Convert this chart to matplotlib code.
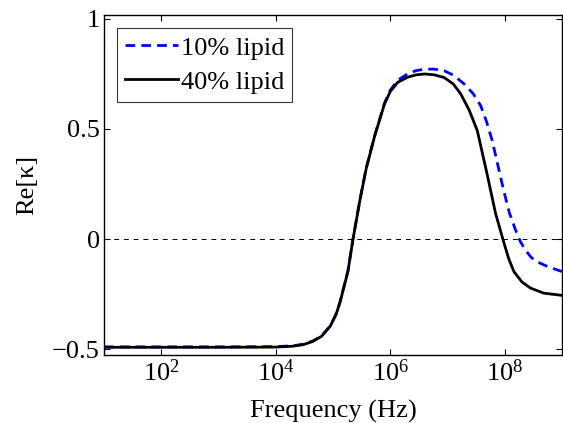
import numpy as np
import matplotlib.pyplot as plt
from matplotlib.ticker import FixedLocator, NullLocator

# ── DATA ────────────────────────────────────────────────────────────────────
# log10 of frequency (Hz) and Re[kappa]
LOGF_40 = [1.0, 2.0, 3.0, 4.0, 4.3, 4.48, 4.65, 4.80, 4.95, 5.05, 5.12, 5.26,
           5.35, 5.47, 5.58, 5.73, 5.90, 6.0, 6.13, 6.3, 6.45, 6.6, 6.77, 6.94,
           7.1, 7.23, 7.38, 7.52, 7.69, 7.84, 7.98, 8.07, 8.16, 8.3, 8.45,
           8.68, 9.0]
RE_40 = [-0.492, -0.492, -0.492, -0.491, -0.487, -0.48, -0.465, -0.442, -0.397,
         -0.345, -0.29, -0.148, 0.0, 0.176, 0.32, 0.47, 0.614, 0.67, 0.712,
         0.735, 0.746, 0.75, 0.746, 0.734, 0.705, 0.66, 0.585, 0.493, 0.297,
         0.116, -0.012, -0.09, -0.148, -0.195, -0.223, -0.246, -0.256]

LOGF_10 = [1.0, 2.0, 3.0, 4.0, 4.3, 4.48, 4.65, 4.80, 4.95, 5.05, 5.12, 5.26,
           5.35, 5.47, 5.58, 5.73, 5.90, 6.0, 6.13, 6.3, 6.45, 6.6, 6.77, 6.94,
           7.1, 7.29, 7.45, 7.58, 7.68, 7.78, 7.88, 7.98, 8.08, 8.19, 8.27,
           8.36, 8.46, 8.56, 8.75, 9.0]
RE_10 = [-0.49, -0.49, -0.49, -0.489, -0.485, -0.478, -0.463, -0.44, -0.395,
         -0.343, -0.288, -0.146, 0.002, 0.178, 0.322, 0.472, 0.618, 0.676,
         0.722, 0.75, 0.765, 0.772, 0.772, 0.765, 0.745, 0.705, 0.66, 0.606,
         0.535, 0.448, 0.335, 0.222, 0.12, 0.04, -0.01, -0.05, -0.083, -0.103,
         -0.125, -0.148]

X_TICKS = [1e2, 1e4, 1e6, 1e8]
X_TICKLABELS = ['$10^2$', '$10^4$', '$10^6$', '$10^8$']
Y_TICKS = [-0.5, 0, 0.5, 1]
Y_TICKLABELS = ['\u22120.5', '0', '0.5', '1']

# ── PLOT ────────────────────────────────────────────────────────────────────
plt.rcParams['font.family'] = ['Liberation Serif', 'DejaVu Serif']
plt.rcParams['mathtext.fontset'] = 'custom'
plt.rcParams['mathtext.rm'] = 'Liberation Serif'
plt.rcParams['mathtext.it'] = 'Liberation Serif:italic'

FS = 19

fig = plt.figure(figsize=(5.63, 4.23), dpi=100)
ax = fig.add_axes([104 / 563, 68 / 423, 458 / 563, 340 / 423])

ax.axhline(0, color='black', linestyle=(0, (5, 5)), linewidth=0.7)

f10 = 10 ** np.array(LOGF_10)
f40 = 10 ** np.array(LOGF_40)
ax.plot(f10, RE_10, color='blue', linewidth=2.0, dashes=(3.5, 2.2),
        label='10% lipid')
ax.plot(f40, RE_40, color='black', linewidth=2.0, label='40% lipid')

ax.set_xscale('log')
ax.set_xlim(10, 1e9)
ax.set_ylim(-0.527, 1.018)
ax.xaxis.set_major_locator(FixedLocator(X_TICKS))
ax.xaxis.set_minor_locator(NullLocator())
ax.set_xticks(X_TICKS, X_TICKLABELS)
ax.set_yticks(Y_TICKS, Y_TICKLABELS)
ax.tick_params(direction='in', top=True, right=True, labelsize=FS,
               length=4, width=0.8, pad=3)
for s in ax.spines.values():
    s.set_linewidth(1.0)

ax.set_xlabel('Frequency (Hz)', fontsize=FS, labelpad=10)
ax.set_ylabel('Re[\u03ba]', fontsize=FS, labelpad=10)

leg = ax.legend(loc='upper left', fontsize=FS, frameon=True, fancybox=False,
                edgecolor='black', handlelength=2.0, handletextpad=0.1,
                borderpad=0.3, labelspacing=0.4, borderaxespad=0.5)
leg.get_frame().set_linewidth(0.8)

fig.savefig('out.png', dpi=100)
